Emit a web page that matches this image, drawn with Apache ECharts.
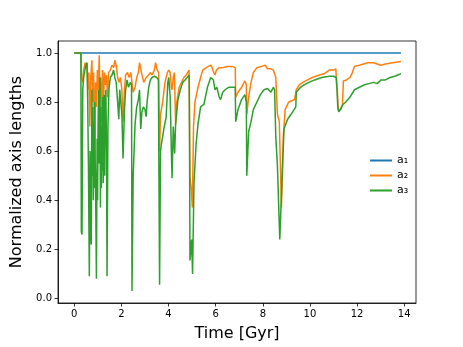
<!DOCTYPE html>
<html>
<head>
<meta charset="utf-8">
<script src="https://cdn.jsdelivr.net/npm/echarts@6/dist/echarts.min.js"></script>
<style>
  html, body { margin: 0; padding: 0; background: #fff; }
  #main { width: 463px; height: 347px; }
</style>
</head>
<body>
<div id="main"></div>
<script>
// 轴长比随时间变化
var xTicks = [0, 2, 4, 6, 8, 10, 12, 14];
var yTicks = [0, 0.2, 0.4, 0.6, 0.8, 1.0];

var tA1 = [0, 13.86];
var vA1 = [1.0, 1.0];

var tA2 = [0, 0.29, 0.31, 0.36, 0.40, 0.46, 0.50, 0.54, 0.58, 0.62, 0.66, 0.70, 0.75, 0.78, 0.82, 0.86, 0.90, 0.94, 0.98, 1.02,
    1.06, 1.09, 1.12, 1.16, 1.20, 1.24, 1.28, 1.33, 1.37, 1.41, 1.46, 1.53, 1.60, 1.67, 1.72, 1.78, 1.84, 1.90, 1.96, 2.02,
    2.07, 2.13, 2.18, 2.26, 2.33, 2.40, 2.45, 2.50, 2.58, 2.65, 2.72, 2.77, 2.85, 2.95, 3.05, 3.15, 3.23, 3.30, 3.40, 3.45,
    3.52, 3.58, 3.62, 3.66, 3.75, 3.85, 3.95, 4.01, 4.07, 4.12, 4.15, 4.20, 4.25, 4.30, 4.35, 4.45, 4.55, 4.65, 4.75, 4.87,
    4.91, 4.96, 5.01, 5.06, 5.12, 5.25, 5.36, 5.45, 5.60, 5.79, 5.85, 5.92, 5.97, 6.03, 6.15, 6.30, 6.50, 6.70, 6.83, 6.85,
    6.95, 7.10, 7.24, 7.30, 7.32, 7.40, 7.50, 7.60, 7.75, 7.95, 8.10, 8.20, 8.34, 8.45, 8.50, 8.55, 8.62, 8.70, 8.79, 8.87,
    8.95, 9.10, 9.35, 9.42, 9.55, 9.70, 9.90, 10.1, 10.4, 10.6, 10.82, 11.0, 11.1, 11.13, 11.16, 11.20, 11.30, 11.38, 11.42, 11.55,
    11.70, 11.80, 11.89, 12.1, 12.45, 12.7, 12.85, 13.0, 13.2, 13.5, 13.86];
var vA2 = [1.0, 1.0, 0.90, 0.88, 0.93, 0.96, 0.94, 0.96, 0.85, 0.92, 0.70, 0.90, 0.97, 0.80, 0.92, 0.62, 0.88, 0.78, 0.93, 0.85,
    0.99, 0.80, 0.90, 0.72, 0.93, 0.80, 0.92, 0.87, 0.91, 0.82, 0.92, 0.93, 0.95, 0.94, 0.97, 0.95, 0.90, 0.88, 0.90, 0.85,
    0.72, 0.85, 0.91, 0.92, 0.90, 0.92, 0.88, 0.84, 0.86, 0.90, 0.92, 0.96, 0.92, 0.88, 0.90, 0.91, 0.92, 0.91, 0.93, 0.96,
    0.93, 0.92, 0.60, 0.75, 0.80, 0.88, 0.92, 0.93, 0.92, 0.86, 0.85, 0.90, 0.92, 0.71, 0.80, 0.86, 0.88, 0.90, 0.91, 0.93,
    0.49, 0.45, 0.37, 0.70, 0.80, 0.86, 0.90, 0.93, 0.94, 0.95, 0.94, 0.92, 0.91, 0.93, 0.94, 0.94, 0.945, 0.945, 0.94, 0.82,
    0.84, 0.86, 0.886, 0.87, 0.75, 0.82, 0.88, 0.92, 0.94, 0.945, 0.95, 0.935, 0.935, 0.93, 0.935, 0.90, 0.75, 0.72, 0.37, 0.66,
    0.77, 0.80, 0.81, 0.85, 0.87, 0.88, 0.89, 0.90, 0.91, 0.915, 0.93, 0.93, 0.935, 0.87, 0.85, 0.77, 0.77, 0.79, 0.886, 0.89,
    0.90, 0.92, 0.946, 0.95, 0.96, 0.96, 0.955, 0.95, 0.955, 0.96, 0.965];

var tA3 = [0, 0.28, 0.30, 0.33, 0.36, 0.40, 0.45, 0.50, 0.54, 0.57, 0.60, 0.64, 0.67, 0.70, 0.72, 0.75, 0.77, 0.79, 0.81, 0.83,
    0.85, 0.87, 0.89, 0.90, 0.94, 0.97, 0.99, 1.01, 1.03, 1.05, 1.07, 1.09, 1.11, 1.13, 1.15, 1.17, 1.19, 1.21, 1.23, 1.25,
    1.27, 1.29, 1.31, 1.34, 1.37, 1.39, 1.43, 1.47, 1.53,
    1.60, 1.67, 1.72, 1.78, 1.84, 1.89, 1.93, 1.96, 2.02, 2.07, 2.13, 2.18, 2.24, 2.30, 2.38, 2.43, 2.45, 2.50, 2.58, 2.65,
    2.72, 2.77, 2.82, 2.87, 2.93, 3.00, 3.05, 3.10, 3.16, 3.23, 3.30, 3.40, 3.50, 3.57, 3.62, 3.66, 3.70, 3.80, 3.90, 3.97,
    4.01, 4.07, 4.12, 4.15, 4.20, 4.26, 4.30, 4.40, 4.50, 4.60, 4.70, 4.79, 4.88, 4.91, 4.95, 4.98, 5.02, 5.08, 5.17, 5.25,
    5.36, 5.50, 5.65, 5.79, 5.90, 5.97, 6.05, 6.15, 6.21, 6.30, 6.40, 6.55, 6.70, 6.83, 6.85, 6.95, 7.10, 7.24, 7.30, 7.32,
    7.40, 7.50, 7.60, 7.75, 7.90, 8.05, 8.20, 8.34, 8.45, 8.50, 8.55, 8.62, 8.72, 8.83, 8.90, 9.05, 9.20, 9.40, 9.42, 9.60,
    9.75, 9.95, 10.2, 10.5, 10.82, 11.0, 11.12, 11.15, 11.18, 11.22, 11.30, 11.40, 11.52, 11.70, 11.89, 12.1, 12.31, 12.5, 12.7, 12.85,
    13.02, 13.2, 13.4, 13.6, 13.86];
var vA3 = [1.0, 1.0, 0.27, 0.26, 0.85, 0.90, 0.93, 0.95, 0.96, 0.80, 0.55, 0.09, 0.60, 0.25, 0.22, 0.85, 0.50, 0.78, 0.40, 0.72,
    0.45, 0.80, 0.55, 0.50, 0.08, 0.65, 0.40, 0.70, 0.85, 0.55, 0.75, 0.90, 0.37, 0.78, 0.45, 0.70, 0.52, 0.82, 0.47, 0.65,
    0.83, 0.50, 0.72, 0.85, 0.60, 0.09, 0.70, 0.85, 0.90,
    0.91, 0.93, 0.90, 0.88, 0.80, 0.73, 0.85, 0.85, 0.75, 0.57, 0.77, 0.85, 0.89, 0.86, 0.88, 0.87, 0.03, 0.50, 0.71, 0.78,
    0.81, 0.85, 0.69, 0.76, 0.78, 0.77, 0.74, 0.81, 0.86, 0.89, 0.90, 0.905, 0.90, 0.89, 0.056, 0.60, 0.63, 0.69, 0.74, 0.88,
    0.90, 0.82, 0.60, 0.49, 0.70, 0.59, 0.71, 0.81, 0.85, 0.88, 0.89, 0.90, 0.91, 0.155, 0.20, 0.24, 0.10, 0.47, 0.63, 0.71,
    0.78, 0.79, 0.86, 0.90, 0.89, 0.85, 0.86, 0.82, 0.81, 0.84, 0.85, 0.86, 0.86, 0.86, 0.72, 0.77, 0.81, 0.83, 0.80, 0.50,
    0.68, 0.72, 0.77, 0.80, 0.83, 0.85, 0.855, 0.84, 0.86, 0.85, 0.66, 0.54, 0.24, 0.52, 0.69, 0.73, 0.75, 0.78, 0.84, 0.86,
    0.87, 0.88, 0.89, 0.90, 0.905, 0.905, 0.90, 0.85, 0.78, 0.76, 0.77, 0.79, 0.80, 0.82, 0.85, 0.86, 0.87, 0.875, 0.88, 0.875,
    0.89, 0.89, 0.90, 0.905, 0.915];

function pairs(t, v) {
    return t.map(function (x, i) { return [x, v[i]]; });
}

var myChart = echarts.init(document.getElementById('main'), null, { renderer: 'canvas' });
var fontFam = 'DejaVu Sans';

option = {
    animation: false,
    backgroundColor: '#fff',
    grid: {
        left: 58, right: 47, top: 41, bottom: 39,
        show: true, borderColor: '#000', borderWidth: 0.8, backgroundColor: 'transparent'
    },
    legend: {
        orient: 'vertical',
        left: 365,
        top: 150,
        itemWidth: 22,
        itemHeight: 2,
        itemGap: 4,
        icon: 'rect',
        textStyle: { fontFamily: fontFam, fontSize: 11, color: '#000' },
        data: ['a₁', 'a₂', 'a₃']
    },
    xAxis: {
        type: 'value',
        min: -0.69,
        max: 14.5,
        name: 'Time [Gyr]',
        nameLocation: 'middle',
        nameGap: 23,
        nameTextStyle: { fontFamily: fontFam, fontSize: 16, color: '#000' },
        splitLine: { show: false },
        axisLine: { onZero: false, lineStyle: { color: '#000', width: 0.8 } },
        axisTick: { show: true, length: 3.5, lineStyle: { color: '#000', width: 0.8 }, customValues: xTicks },
        axisLabel: { fontFamily: fontFam, fontSize: 10, color: '#000', margin: 6, customValues: xTicks }
    },
    yAxis: {
        type: 'value',
        min: -0.0185,
        max: 1.0485,
        name: 'Normalized axis lengths',
        nameLocation: 'middle',
        nameGap: 26,
        nameTextStyle: { fontFamily: fontFam, fontSize: 16, color: '#000' },
        splitLine: { show: false },
        axisLine: { show: true, onZero: false, lineStyle: { color: '#000', width: 0.8 } },
        axisTick: { show: true, length: 3.5, lineStyle: { color: '#000', width: 0.8 }, customValues: yTicks },
        axisLabel: {
            fontFamily: fontFam, fontSize: 10, color: '#000', margin: 6, customValues: yTicks,
            formatter: function (v) { return v.toFixed(1); }
        }
    },
    series: [
        { name: 'a₁', type: 'line', showSymbol: false, data: pairs(tA1, vA1), color: '#1f77b4', lineStyle: { width: 1.5 } },
        { name: 'a₂', type: 'line', showSymbol: false, data: pairs(tA2, vA2), color: '#ff7f0e', lineStyle: { width: 1.5 } },
        { name: 'a₃', type: 'line', showSymbol: false, data: pairs(tA3, vA3), color: '#2ca02c', lineStyle: { width: 1.5 } }
    ]
};
myChart.setOption(option);
</script>
</body>
</html>
